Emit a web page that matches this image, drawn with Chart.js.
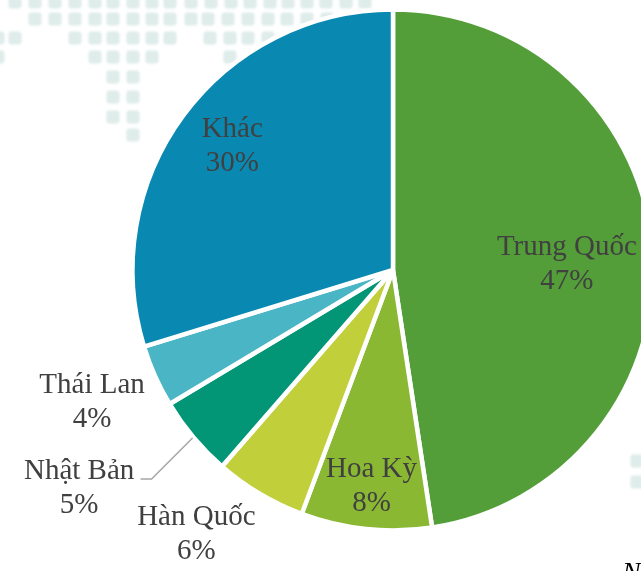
<!DOCTYPE html>
<html lang="vi">
<head>
<meta charset="utf-8">
<title>Pie chart</title>
<script src="https://cdn.jsdelivr.net/npm/chart.js@4"></script>
<style>
    html, body { margin: 0; padding: 0; background: #fff; overflow: hidden; width: 641px; height: 571px; }
    canvas { display: block; }
</style>
</head>
<body>
<canvas id="pieChart" width="786" height="571"></canvas>
<script>
// Chart data
const categories = ['Trung Quốc', 'Hoa Kỳ', 'Hàn Quốc', 'Nhật Bản', 'Thái Lan', 'Khác'];
const sliceValues = [47.6, 8.1, 5.7, 5, 3.85, 29.75];
const percentLabels = ['47%', '8%', '6%', '5%', '4%', '30%'];
const sliceColors = ['#549e39', '#8ab833', '#c0cf3a', '#029676', '#4ab5c4', '#0989b1'];

// Label placement, relative to each slice's centre point
const labelOffsets = [[44, 4], [-8, 87], [-130, 152], [-214, 135], [-182, 79], [-56, -46]];

// World map dots behind the pie: [y, x, x, ...]
const mapDots = [
    [2, 15, 35, 55, 75, 95, 113, 133, 152, 170, 191, 211, 231, 250, 270, 288, 307, 326, 346, 365],
    [19, 35, 55, 75, 95, 113, 133, 152, 170, 191, 208, 228, 248, 268, 287, 307, 327],
    [38, -2, 15, 75, 95, 113, 133, 152, 170, 210, 230, 248, 268],
    [57, -2, 95, 113, 133, 152, 230],
    [77, 113, 133],
    [97, 113, 133],
    [117, 113, 133],
    [135, 133],
    [461, 637],
    [482, 637]
];

const mapPlugin = {
    id: 'mapBackground',
    beforeDraw(chart) {
        const ctx = chart.ctx;
        ctx.save();
        ctx.fillStyle = '#deecea';
        ctx.filter = 'blur(1.2px)';
        mapDots.forEach(row => {
            row.slice(1).forEach(x => {
                ctx.beginPath();
                ctx.roundRect(x - 6.5, row[0] - 6.5, 13, 13, 3);
                ctx.fill();
            });
        });
        ctx.restore();
    }
};

const labelPlugin = {
    id: 'sliceLabels',
    afterDraw(chart) {
        const ctx = chart.ctx;
        const arcs = chart.getDatasetMeta(0).data;
        ctx.save();
        ctx.font = "29px 'Liberation Serif'";
        ctx.fillStyle = '#404040';
        ctx.textAlign = 'center';
        ctx.textBaseline = 'middle';
        arcs.forEach((arc, i) => {
            const p = arc.getCenterPoint();
            const x = p.x + labelOffsets[i][0];
            const y = p.y + labelOffsets[i][1];
            ctx.fillText(categories[i], x, y - 17);
            ctx.fillText(percentLabels[i], x, y + 17);
        });

        // Leader line for Nhật Bản
        const arc = arcs[3];
        const mid = (arc.startAngle + arc.endAngle) / 2;
        const sx = arc.x + Math.cos(mid) * (arc.outerRadius + 1);
        const sy = arc.y + Math.sin(mid) * (arc.outerRadius + 1);
        ctx.strokeStyle = '#a6a6a6';
        ctx.lineWidth = 1.5;
        ctx.beginPath();
        ctx.moveTo(sx, sy);
        ctx.lineTo(sx - 41, sy + 41);
        ctx.lineTo(sx - 52, sy + 41);
        ctx.stroke();

        // Clipped source note at the bottom edge
        ctx.font = "italic 28px 'Liberation Serif'";
        ctx.fillStyle = '#000';
        ctx.textAlign = 'left';
        ctx.textBaseline = 'alphabetic';
        ctx.fillText('N', 622, 581);
        ctx.restore();
    }
};

new Chart(document.getElementById('pieChart'), {
    type: 'pie',
    data: {
        labels: categories,
        datasets: [{
            data: sliceValues,
            backgroundColor: sliceColors,
            borderColor: '#ffffff',
            borderWidth: 4.5,
            radius: 260.5
        }]
    },
    options: {
        responsive: false,
        animation: false,
        layout: { padding: { bottom: 31 } },
        plugins: {
            legend: { display: false },
            tooltip: { enabled: false }
        }
    },
    plugins: [mapPlugin, labelPlugin]
});
</script>
</body>
</html>
